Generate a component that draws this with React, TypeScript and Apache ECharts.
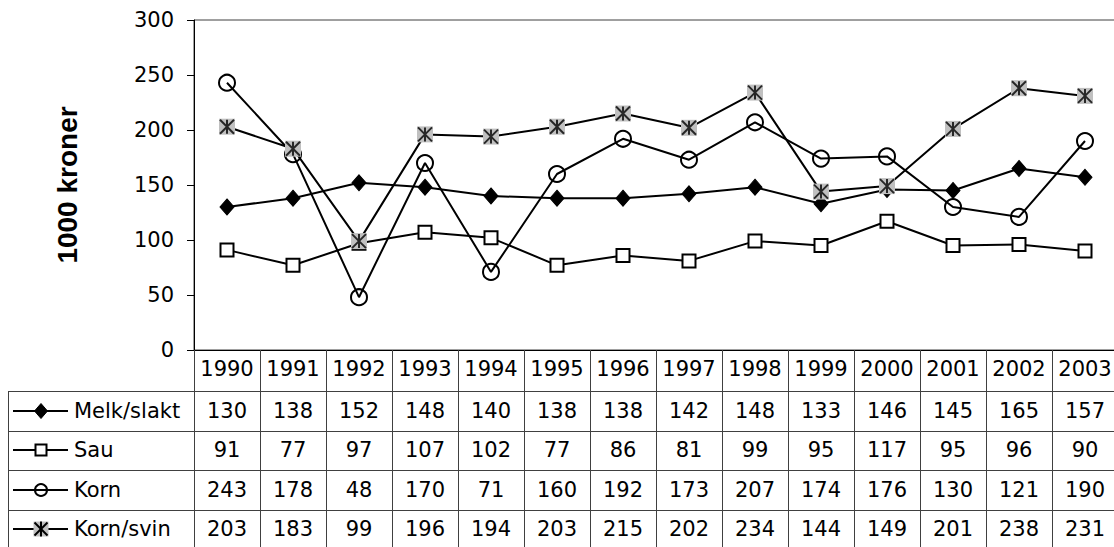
import React, { useEffect, useRef } from "react";
import * as echarts from "echarts";

const years = ["1990", "1991", "1992", "1993", "1994", "1995", "1996", "1997", "1998", "1999", "2000", "2001", "2002", "2003"];
const melkSlakt = [130, 138, 152, 148, 140, 138, 138, 142, 148, 133, 146, 145, 165, 157];
const sau = [91, 77, 97, 107, 102, 77, 86, 81, 99, 95, 117, 95, 96, 90];
const korn = [243, 178, 48, 170, 71, 160, 192, 173, 207, 174, 176, 130, 121, 190];
const kornSvin = [203, 183, 99, 196, 194, 203, 215, 202, 234, 144, 149, 201, 238, 231];
const seriesNames = ["Melk/slakt", "Sau", "Korn", "Korn/svin"];
const yMin = 0;
const yMax = 300;
const yInterval = 50;
const yTitle = "1000 kroner";

export default function App() {
  const ref = useRef<HTMLDivElement>(null);
  useEffect(() => {
    const chart = echarts.init(ref.current!, null, { renderer: "svg" });
    const rows = [melkSlakt, sau, korn, kornSvin];
    const FONT = "DejaVu Sans";
    const FS = 21;
    const GRID_L = 194;
    const GRID_T = 20;
    const GRID_W = 924;
    const GRID_H = 330;
    const rowCenters = [411, 450, 490, 529];
    const rowLines = [391, 431, 470, 510];
    const lineCol = "#404040";
    const mx = 41;

    const graphics: any[] = [];
    rowLines.forEach((y) => {
      graphics.push({
        type: "line",
        silent: true,
        shape: { x1: 8, y1: y + 0.5, x2: 1114, y2: y + 0.5 },
        style: { stroke: lineCol, lineWidth: 1 },
      });
    });
    graphics.push({
      type: "line",
      silent: true,
      shape: { x1: 8.5, y1: rowLines[0], x2: 8.5, y2: 547 },
      style: { stroke: lineCol, lineWidth: 1 },
    });
    seriesNames.forEach((name, i) => {
      const y = rowCenters[i];
      graphics.push({
        type: "line",
        silent: true,
        shape: { x1: 13, y1: y, x2: 68, y2: y },
        style: { stroke: "#000", lineWidth: 2 },
      });
      if (i === 0) {
        graphics.push({
          type: "polygon",
          silent: true,
          shape: { points: [[mx, y - 7.5], [mx + 6.5, y], [mx, y + 7.5], [mx - 6.5, y]] },
          style: { fill: "#000", stroke: "#000", lineWidth: 1 },
        });
      } else if (i === 1) {
        graphics.push({
          type: "rect",
          silent: true,
          shape: { x: mx - 5.5, y: y - 5.5, width: 11, height: 11 },
          style: { fill: "#fff", stroke: "#000", lineWidth: 2 },
        });
      } else if (i === 2) {
        graphics.push({
          type: "circle",
          silent: true,
          shape: { cx: mx, cy: y, r: 6 },
          style: { fill: "none", stroke: "#000", lineWidth: 2 },
        });
      } else {
        graphics.push({
          type: "rect",
          silent: true,
          shape: { x: mx - 7.5, y: y - 7.5, width: 15, height: 15 },
          style: { fill: "#c0c0c0" },
        });
        const s = 6.5;
        [[mx - s, y - s, mx + s, y + s], [mx + s, y - s, mx - s, y + s], [mx, y - 7.5, mx, y + 7.5]].forEach((p) => {
          graphics.push({
            type: "line",
            silent: true,
            shape: { x1: p[0], y1: p[1], x2: p[2], y2: p[3] },
            style: { stroke: "#000", lineWidth: 2 },
          });
        });
      }
      graphics.push({
        type: "text",
        silent: true,
        x: 74,
        y: y,
        style: {
          text: name,
          fill: "#000",
          font: `${FS}px "${FONT}"`,
          fontSize: FS,
          fontFamily: FONT,
          verticalAlign: "middle",
          align: "left",
        },
      });
    });

    const baseLine = { color: "#000", width: 2 };

    chart.setOption({
      animation: false,
      backgroundColor: "#fff",
      textStyle: { fontFamily: FONT },
      grid: {
        left: GRID_L,
        top: GRID_T,
        width: GRID_W,
        height: GRID_H,
        show: true,
        borderColor: lineCol,
        borderWidth: 1,
        backgroundColor: "transparent",
        containLabel: false,
        outerBoundsMode: "none",
      },
      xAxis: {
        type: "category",
        data: years,
        boundaryGap: true,
        axisLine: { show: true, lineStyle: { color: "#000", width: 1 } },
        axisTick: { show: true, interval: 0, length: 200, alignWithLabel: false, lineStyle: { color: lineCol, width: 1 } },
        splitLine: { show: false },
        axisLabel: {
          interval: 0,
          margin: -3,
          color: "#000",
          formatter: (value: string, idx: number) =>
            [`{h|${value}}`, ...rows.map((r) => `{v|${r[idx]}}`)].join("\n"),
          rich: {
            h: { fontSize: FS, fontFamily: FONT, color: "#000", lineHeight: 44 },
            v: { fontSize: FS, fontFamily: FONT, color: "#000", lineHeight: 39.5 },
          },
        },
      },
      yAxis: {
        type: "value",
        min: yMin,
        max: yMax,
        interval: yInterval,
        axisLine: { show: true, lineStyle: { color: "#000", width: 1 } },
        axisTick: { show: true, length: 7, lineStyle: { color: "#000" } },
        splitLine: { show: false },
        axisLabel: { margin: 20, color: "#000", fontSize: 21, fontFamily: FONT },
        name: yTitle,
        nameLocation: "middle",
        nameRotate: 90,
        nameGap: 113,
        nameTextStyle: { fontSize: 28, fontWeight: "bold", fontFamily: "Liberation Sans", color: "#000" },
      },
      series: [
        {
          name: seriesNames[0],
          type: "line",
          data: melkSlakt,
          symbol: "diamond",
          symbolSize: [14, 16],
          lineStyle: baseLine,
          itemStyle: { color: "#000", borderColor: "#000", borderWidth: 1 },
          silent: true,
        },
        {
          name: seriesNames[1],
          type: "line",
          data: sau,
          symbol: "rect",
          symbolSize: 13,
          lineStyle: baseLine,
          itemStyle: { color: "#fff", borderColor: "#000", borderWidth: 2 },
          silent: true,
        },
        {
          name: seriesNames[2],
          type: "line",
          data: korn,
          symbol: "circle",
          symbolSize: 16,
          lineStyle: baseLine,
          itemStyle: { color: "transparent", borderColor: "#000", borderWidth: 2 },
          silent: true,
        },
        {
          name: seriesNames[3],
          type: "line",
          data: kornSvin,
          symbol: "rect",
          symbolSize: 16,
          lineStyle: baseLine,
          itemStyle: { color: "#c0c0c0", borderWidth: 0 },
          silent: true,
        },
        {
          name: seriesNames[3] + " markør",
          type: "scatter",
          data: kornSvin,
          symbol: "path://M0,0L14,14M14,0L0,14M7,0L7,14",
          symbolSize: 14,
          itemStyle: { color: "transparent", borderColor: "#000", borderWidth: 2 },
          z: 5,
          silent: true,
        },
      ],
      graphic: graphics,
    });
    return () => chart.dispose();
  }, []);
  return <div ref={ref} style={{ position: "fixed", left: 0, top: 0, width: 1114, height: 547 }} />;
}
